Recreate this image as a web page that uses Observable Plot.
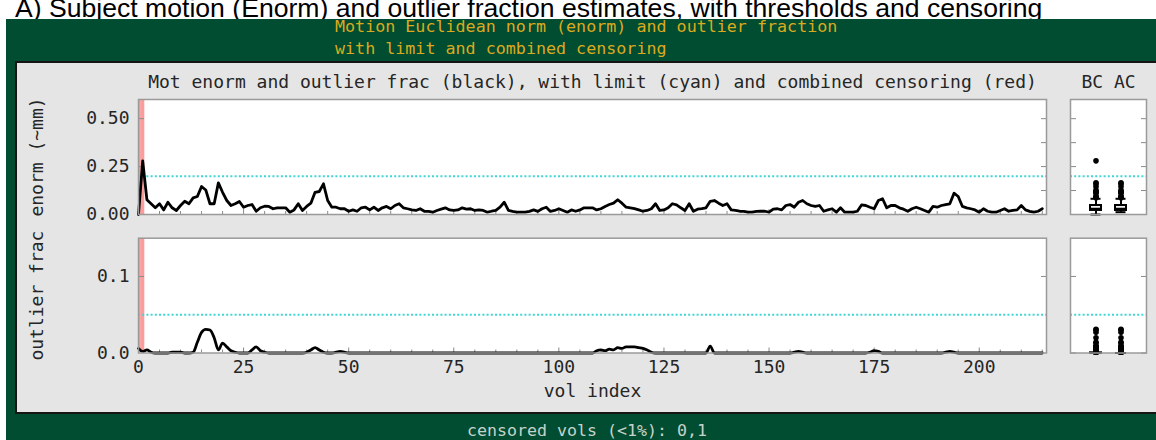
<!DOCTYPE html>
<html><head><meta charset="utf-8">
<script src="https://cdn.jsdelivr.net/npm/d3@7"></script>
<script src="https://cdn.jsdelivr.net/npm/@observablehq/plot@0.6"></script>
<style>
html,body{margin:0;padding:0;background:#fff;}
#page{position:relative;width:1156px;height:440px;overflow:hidden;background:#fff;}
#headclip{position:absolute;left:0;top:0;width:1156px;height:19px;overflow:hidden;}
#headline{position:absolute;left:15px;top:-2px;font-family:"Liberation Sans",Arial,sans-serif;font-size:26.6px;line-height:20px;white-space:nowrap;color:#000;}
#green{position:absolute;left:6px;top:19px;width:1150px;height:421px;background:#014d31;}
.gt{position:absolute;left:335px;margin:0;font-family:"DejaVu Sans Mono",monospace;font-size:16.7px;line-height:16px;color:#dcaa1e;white-space:pre;}
#panel{position:absolute;left:15px;top:61px;width:1160px;height:349px;background:#e5e5e5;border:2px solid #151515;}
#footer{position:absolute;left:0;width:1174px;top:421px;text-align:center;font-family:"DejaVu Sans Mono",monospace;font-size:16.6px;line-height:20px;color:#c5d3cb;white-space:pre;}
.plot{position:absolute;}
</style>
</head><body>
<div id="page">
  <div id="headclip"><div id="headline">A) Subject motion (Enorm) and outlier fraction estimates, with thresholds and censoring</div></div>
  <div id="green"></div>
  <div class="gt" style="top:18px">Motion Euclidean norm (enorm) and outlier fraction</div>
  <div class="gt" style="top:40px">with limit and combined censoring</div>
  <div id="panel"></div>
  <div id="footer">censored vols (&lt;1%): 0,1</div>
</div>
<script>
// ---------- data ----------
const enorm = [
0.000, 0.280, 0.077, 0.056, 0.035, 0.056, 0.024, 0.064, 0.035, 0.021,
0.047, 0.069, 0.056, 0.087, 0.094, 0.146, 0.128, 0.056, 0.056, 0.165,
0.116, 0.073, 0.047, 0.056, 0.068, 0.038, 0.047, 0.052, 0.017, 0.035,
0.043, 0.042, 0.030, 0.035, 0.035, 0.035, 0.012, 0.024, 0.056, 0.021,
0.042, 0.059, 0.116, 0.120, 0.160, 0.073, 0.038, 0.038, 0.030, 0.030,
0.017, 0.024, 0.017, 0.035, 0.038, 0.024, 0.038, 0.021, 0.035, 0.042,
0.030, 0.047, 0.056, 0.035, 0.030, 0.024, 0.021, 0.030, 0.017, 0.016,
0.012, 0.021, 0.028, 0.035, 0.024, 0.021, 0.024, 0.035, 0.028, 0.030,
0.021, 0.024, 0.021, 0.012, 0.017, 0.021, 0.038, 0.064, 0.021, 0.016,
0.012, 0.012, 0.012, 0.016, 0.024, 0.016, 0.030, 0.038, 0.016, 0.021,
0.030, 0.021, 0.012, 0.024, 0.017, 0.024, 0.035, 0.035, 0.035, 0.024,
0.030, 0.042, 0.052, 0.059, 0.077, 0.059, 0.038, 0.035, 0.031, 0.024,
0.017, 0.021, 0.030, 0.056, 0.021, 0.024, 0.035, 0.056, 0.050, 0.035,
0.021, 0.056, 0.017, 0.028, 0.031, 0.035, 0.069, 0.073, 0.059, 0.047,
0.056, 0.024, 0.021, 0.017, 0.016, 0.012, 0.012, 0.016, 0.017, 0.017,
0.012, 0.028, 0.030, 0.024, 0.047, 0.052, 0.038, 0.064, 0.073, 0.056,
0.047, 0.042, 0.047, 0.017, 0.024, 0.030, 0.012, 0.035, 0.012, 0.012,
0.012, 0.017, 0.050, 0.047, 0.038, 0.030, 0.073, 0.082, 0.035, 0.047,
0.047, 0.035, 0.028, 0.017, 0.030, 0.038, 0.030, 0.021, 0.012, 0.042,
0.038, 0.047, 0.052, 0.056, 0.111, 0.094, 0.042, 0.035, 0.030, 0.024,
0.012, 0.030, 0.017, 0.012, 0.012, 0.021, 0.030, 0.017, 0.021, 0.024,
0.047, 0.024, 0.016, 0.012, 0.017, 0.030
];
const outfrac = [
0.006, 0.002, 0.004, 0.001, 0, 0, 0, 0, 0.001, 0.001,
0.001, 0, 0, 0.001, 0.014, 0.027, 0.031, 0.030, 0.020, 0.004,
0.013, 0.008, 0.003, 0.001, 0, 0, 0, 0.004, 0.008, 0.003,
0.001, 0, 0, 0, 0, 0, 0, 0, 0, 0,
0.001, 0.004, 0.007, 0.004, 0.001, 0, 0, 0.001, 0.002, 0.001,
0, 0, 0, 0, 0, 0, 0, 0, 0, 0,
0, 0, 0, 0, 0, 0, 0, 0, 0, 0,
0, 0, 0, 0, 0, 0, 0, 0, 0, 0,
0, 0, 0, 0, 0, 0, 0, 0, 0, 0,
0, 0, 0, 0, 0, 0, 0, 0, 0, 0,
0, 0, 0, 0, 0, 0, 0, 0, 0, 0.003,
0.004, 0.003, 0.005, 0.004, 0.007, 0.006, 0.008, 0.008, 0.008, 0.007,
0.006, 0.004, 0.001, 0, 0, 0, 0, 0, 0, 0,
0, 0, 0, 0, 0, 0, 0.009, 0, 0, 0,
0, 0, 0, 0, 0, 0, 0, 0, 0, 0,
0, 0, 0, 0, 0, 0, 0.001, 0.002, 0.001, 0,
0, 0, 0, 0, 0, 0, 0, 0, 0, 0,
0, 0, 0, 0, 0.001, 0.003, 0.002, 0, 0, 0,
0, 0, 0, 0, 0, 0, 0, 0, 0, 0,
0, 0, 0.001, 0.002, 0.001, 0, 0, 0, 0, 0,
0, 0, 0, 0, 0, 0, 0, 0, 0, 0,
0, 0, 0, 0, 0, 0
];
const censored = [0, 1];
const enormLimit = 0.2;
const outfracLimit = 0.05;
const volDomain = [0, 216];
const enormDomain = [0, 0.6];
const outfracDomain = [0, 0.15];
const xTickLabels = [0, 25, 50, 75, 100, 125, 150, 175, 200];
const enormTickLabels = [0, 0.25, 0.5];
const enormMinorTicks = [0.125, 0.25, 0.375, 0.5];
const outfracTickLabels = [0, 0.1];
const boxGroups = ["BC", "AC"];
const mainTitle = "Mot enorm and outlier frac (black), with limit (cyan) and combined censoring (red)";

// ---------- derived tables ----------
const series = enorm.map((v, i) => ({vol: i, enorm: v, outfrac: outfrac[i]}));
const xMinor = d3.range(0, 216, 5).filter(v => !xTickLabels.includes(v));

function boxStats(values) {
  const s = values.slice().sort(d3.ascending);
  const q1 = d3.quantile(s, 0.25), med = d3.quantile(s, 0.5), q3 = d3.quantile(s, 0.75);
  const iqr = q3 - q1;
  const lo = d3.min(s.filter(v => v >= q1 - 1.5 * iqr));
  const hi = d3.max(s.filter(v => v <= q3 + 1.5 * iqr));
  const out = s.filter(v => v < lo || v > hi);
  return {q1, med, q3, lo, hi, out};
}
function boxTables(key) {
  const groups = {
    BC: series.map(d => d[key]),
    AC: series.filter(d => !censored.includes(d.vol)).map(d => d[key])
  };
  const stats = [], outs = [];
  for (const g of boxGroups) {
    const st = boxStats(groups[g]);
    stats.push({group: g, ...st});
    for (const v of st.out) outs.push({group: g, v});
  }
  return {stats, outs};
}

// ---------- styles ----------
const RED = "#fb9d9d", CYAN = "#3fd6d6", FRAME = "#9a9a9a", TICK = "#8a8a8a";
const style = {fontFamily: '"DejaVu Sans Mono", monospace', fontSize: "18px", color: "#262626", background: "transparent", overflow: "visible"};
const page = document.getElementById("page");
function place(svg, left, top) {
  svg.classList.add("plot");
  svg.style.left = left + "px";
  svg.style.top = top + "px";
  page.appendChild(svg);
}
const blank = () => "";

function inwardY(ticksL, ticksR) {
  return [
    Plot.axisY({anchor: "left", ticks: ticksL, tickSize: 6, dx: 6, tickFormat: blank, label: null, stroke: TICK}),
    Plot.axisY({anchor: "right", ticks: ticksR, tickSize: 6, dx: -6, tickFormat: blank, label: null, stroke: TICK})
  ];
}
function inwardX() {
  return [
    Plot.axisX({anchor: "bottom", ticks: xMinor, tickSize: 3, dy: -3, tickFormat: blank, label: null, stroke: TICK}),
    Plot.axisX({anchor: "bottom", ticks: xTickLabels, tickSize: 5, dy: -5, tickFormat: blank, label: null, stroke: TICK})
  ];
}
function yLabel(t) {
  return Plot.text([t], {text: d => d, frameAnchor: "left", rotate: -90, dx: -101, textAnchor: "middle", lineAnchor: "middle"});
}

// ---------- top main ----------
place(Plot.plot({
  width: 1060, height: 160, marginLeft: 138, marginRight: 14, marginTop: 37, marginBottom: 8,
  style,
  x: {domain: volDomain},
  y: {domain: enormDomain},
  marks: [
    Plot.frame({fill: "white"}),
    Plot.rect(censored, {x1: d => d - 0.5, x2: d => d + 0.5, fill: RED, clip: true}),
    Plot.ruleY([enormLimit], {stroke: CYAN, strokeWidth: 2, strokeDasharray: "2,2.2"}),
    ...inwardX(),
    ...inwardY(enormTickLabels, enormMinorTicks),
    Plot.line(series, {x: "vol", y: "enorm", stroke: "black", strokeWidth: 2.8, strokeLinejoin: "round"}),
    Plot.axisY({anchor: "left", ticks: enormTickLabels, tickSize: 0, tickPadding: 9, tickFormat: d3.format(".2f"), label: null}),
    Plot.frame({stroke: FRAME, strokeWidth: 1.5}),
    Plot.text([mainTitle], {text: d => d, frameAnchor: "top", dy: -17.5, lineAnchor: "middle", textAnchor: "middle"}),
    yLabel("enorm (~mm)")
  ]
}), 0, 62);

// ---------- bottom main ----------
place(Plot.plot({
  width: 1060, height: 175, marginLeft: 138, marginRight: 14, marginTop: 12.7, marginBottom: 47.5,
  style,
  x: {domain: volDomain},
  y: {domain: outfracDomain},
  marks: [
    Plot.frame({fill: "white"}),
    Plot.rect(censored, {x1: d => d - 0.5, x2: d => d + 0.5, fill: RED, clip: true}),
    Plot.ruleY([outfracLimit], {stroke: CYAN, strokeWidth: 2, strokeDasharray: "2,2.2"}),
    ...inwardX(),
    ...inwardY([0.1], [0.1]),
    Plot.line(series, {x: "vol", y: "outfrac", stroke: "black", strokeWidth: 2.8, curve: "monotone-x", strokeLinejoin: "round"}),
    Plot.axisY({anchor: "left", ticks: outfracTickLabels, tickSize: 0, tickPadding: 9, tickFormat: d3.format(".1f"), label: null}),
    Plot.axisX({anchor: "bottom", ticks: xTickLabels, tickSize: 0, tickPadding: 7.5, tickFormat: d3.format("d"), label: null}),
    Plot.frame({stroke: FRAME, strokeWidth: 1.5}),
    yLabel("outlier frac"),
    Plot.text(["vol index"], {text: d => d, frameAnchor: "bottom", dy: 38, lineAnchor: "middle", textAnchor: "middle"})
  ]
}), 0, 225);

// ---------- box panels ----------
function boxPanel(key, yDomain, limit, ticks, height, mt, mb, title) {
  const {stats, outs} = boxTables(key);
  const marks = [
    Plot.frame({fill: "white"}),
    Plot.ruleY([limit], {stroke: CYAN, strokeWidth: 2, strokeDasharray: "2,2.2"}),
    ...inwardY(ticks, ticks),
    Plot.ruleX(stats, {x: "group", y1: "lo", y2: "hi", stroke: "black", strokeWidth: 2}),
    Plot.tickY(stats, {x: "group", y: "lo", stroke: "black", strokeWidth: 2, insetLeft: 1.5, insetRight: 1.5}),
    Plot.tickY(stats, {x: "group", y: "hi", stroke: "black", strokeWidth: 2, insetLeft: 1.5, insetRight: 1.5}),
    Plot.barY(stats, {x: "group", y1: "q1", y2: "q3", fill: "#f2f2f2", stroke: "black", strokeWidth: 2, insetLeft: 1, insetRight: 1}),
    Plot.tickY(stats, {x: "group", y: "med", stroke: "black", strokeWidth: 2, insetLeft: 1, insetRight: 1}),
    Plot.dot(outs, {x: "group", y: "v", r: 2.8, fill: "black", stroke: "none"}),
    Plot.frame({stroke: FRAME, strokeWidth: 1.5})
  ];
  if (title) marks.push(Plot.text([title], {text: d => d, frameAnchor: "top", dy: -17.5, lineAnchor: "middle", textAnchor: "middle"}));
  return Plot.plot({
    width: 90, height, marginLeft: 8, marginRight: 6, marginTop: mt, marginBottom: mb,
    style,
    x: {type: "band", domain: boxGroups, paddingInner: 0.5, paddingOuter: 0.77, axis: null},
    y: {domain: yDomain},
    marks
  });
}
place(boxPanel("enorm", enormDomain, enormLimit, enormMinorTicks, 160, 37, 8, boxGroups.join(" ")), 1062, 62);
place(boxPanel("outfrac", outfracDomain, outfracLimit, [0, 0.1], 140, 12.7, 12.5, null), 1062, 225);
</script>
</body></html>
